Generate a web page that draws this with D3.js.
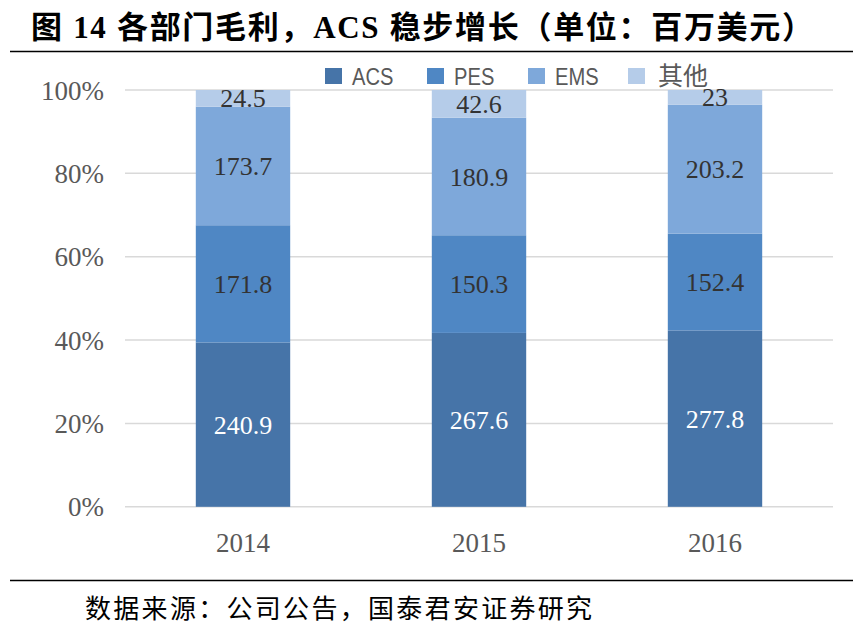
<!DOCTYPE html>
<html>
<head>
<meta charset="utf-8">
<script src="https://cdn.jsdelivr.net/npm/d3@7/dist/d3.min.js"></script>
<style>
  html, body { margin: 0; padding: 0; background: #fff; }
  svg { display: block; }
</style>
</head>
<body>
<svg id="chart" width="862" height="638"></svg>
<script>
// ---- data ----
const years = ["2014", "2015", "2016"];
const seriesNames = ["ACS", "PES", "EMS", "其他"];
const acs = [240.9, 267.6, 277.8];
const pes = [171.8, 150.3, 152.4];
const ems = [173.7, 180.9, 203.2];
const other = [24.5, 42.6, 23];
const yTicks = [0, 0.2, 0.4, 0.6, 0.8, 1.0];
const titleText = "图 14 各部门毛利，ACS 稳步增长（单位：百万美元）";
const sourceText = "数据来源：公司公告，国泰君安证券研究";

// ---- styling ----
const colors = ["#4674a8", "#4f87c4", "#7ea8da", "#b5cce9"];
const labelColors = ["#ffffff", "#333333", "#333333", "#333333"];
const serif = "'Liberation Serif','Times New Roman','Noto Sans CJK SC',serif";

const svg = d3.select("#chart");

const rows = years.map((y, i) => ({
  year: y, ACS: acs[i], PES: pes[i], EMS: ems[i], "其他": other[i]
}));

const x = d3.scaleBand().domain(years).range([125, 833])
  .paddingInner(0.6).paddingOuter(0.3);
const y = d3.scaleLinear().domain([0, 1]).range([506.8, 90]);

// title
svg.append("text")
  .attr("x", 31).attr("y", 38)
  .attr("font-family", serif)
  .attr("font-weight", "bold")
  .attr("font-size", 31)
  .attr("fill", "#000")
  .attr("textLength", 782)
  .attr("lengthAdjust", "spacing")
  .text(titleText);

svg.append("line").attr("x1", 10).attr("x2", 853).attr("y1", 51.5).attr("y2", 51.5)
  .attr("stroke", "#000").attr("stroke-width", 1.5);

// gridlines
svg.append("g").selectAll("line").data(yTicks).join("line")
  .attr("x1", 125).attr("x2", 833)
  .attr("y1", d => y(d)).attr("y2", d => y(d))
  .attr("stroke", "#d9d9d9").attr("stroke-width", 1.5);

// y axis labels
const yAxis = d3.axisLeft(y).tickValues(yTicks).tickFormat(d3.format(".0%")).tickSize(0).tickPadding(0);
const gy = svg.append("g").attr("transform", "translate(104,0)").call(yAxis);
gy.select(".domain").remove();
gy.selectAll("text")
  .attr("font-family", serif).attr("font-size", 27).attr("fill", "#595959")
  .attr("dy", "0.34em");

// x axis labels
const xAxis = d3.axisBottom(x).tickSize(0).tickPadding(0);
const gx = svg.append("g").attr("transform", "translate(0,543)").call(xAxis);
gx.select(".domain").remove();
gx.selectAll("text")
  .attr("font-family", serif).attr("font-size", 27).attr("fill", "#595959")
  .attr("dy", "0.34em");

// stacked bars
const stack = d3.stack().keys(seriesNames).offset(d3.stackOffsetExpand);
const layers = stack(rows);

const gLayers = svg.append("g").selectAll("g").data(layers).join("g")
  .attr("fill", (d, i) => colors[i]);

gLayers.selectAll("rect").data(d => d).join("rect")
  .attr("x", d => x(d.data.year))
  .attr("width", x.bandwidth())
  .attr("y", d => y(d[1]))
  .attr("height", d => y(d[0]) - y(d[1]));

// value labels
layers.forEach((layer, li) => {
  svg.append("g").selectAll("text").data(layer).join("text")
    .attr("x", d => x(d.data.year) + x.bandwidth() / 2)
    .attr("y", d => (y(d[0]) + y(d[1])) / 2)
    .attr("dy", "0.35em")
    .attr("text-anchor", "middle")
    .attr("font-family", serif)
    .attr("font-size", 26)
    .attr("fill", labelColors[li])
    .text(d => d3.format("")(d.data[layer.key]));
});

// legend
const legendX = [325, 427, 528, 628];
const legend = svg.append("g").selectAll("g").data(seriesNames).join("g")
  .attr("transform", (d, i) => `translate(${legendX[i]},76)`);
legend.append("rect").attr("x", 0).attr("y", -8).attr("width", 17).attr("height", 16)
  .attr("fill", (d, i) => colors[i]);
legend.append("text")
  .attr("transform", (d, i) => i < 3 ? "translate(27,0) scale(0.84,1)" : "translate(30,0)")
  .attr("dy", "0.36em")
  .attr("font-family", "'Liberation Sans','Noto Sans CJK SC',sans-serif")
  .attr("font-size", (d, i) => i < 3 ? 24 : 25)
  .attr("fill", "#595959")
  .text(d => d);

// bottom line & source
svg.append("line").attr("x1", 10).attr("x2", 853).attr("y1", 580.5).attr("y2", 580.5)
  .attr("stroke", "#000").attr("stroke-width", 1.5);

svg.append("text")
  .attr("x", 85).attr("y", 609).attr("dy", "0.36em")
  .attr("font-family", "'Noto Sans CJK SC',sans-serif")
  .attr("font-size", 26)
  .attr("letter-spacing", 2.3)
  .attr("fill", "#000")
  .text(sourceText);
</script>
</body>
</html>
